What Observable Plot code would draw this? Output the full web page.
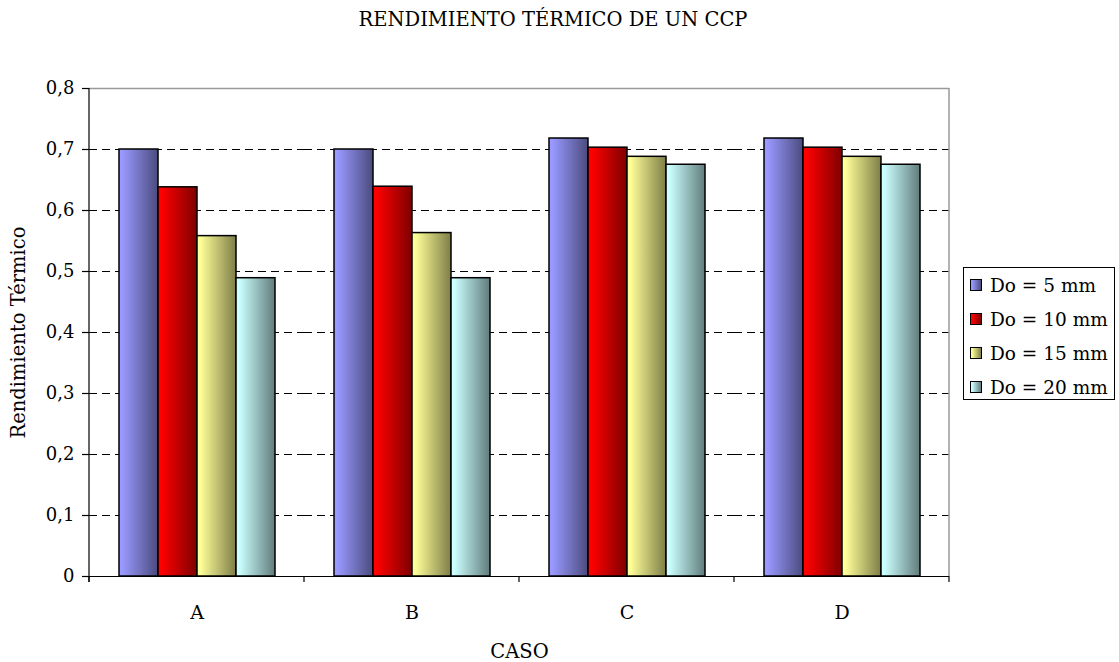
<!DOCTYPE html>
<html><head><meta charset="utf-8">
<script src="https://cdn.jsdelivr.net/npm/d3@7"></script>
<script src="https://cdn.jsdelivr.net/npm/@observablehq/plot@0.6"></script>
<style>
body{margin:0;background:#fff;font-family:"DejaVu Serif",serif;}
#wrap{position:relative;width:1119px;height:662px;overflow:hidden;}
#wrap svg{position:absolute;left:0;top:0;}
#title{position:absolute;left:0;width:1106px;top:8px;text-align:center;font-size:19.5px;color:#000;}
#legend{position:absolute;left:963px;top:267px;width:152px;height:133px;border:1px solid #000;box-sizing:border-box;background:#fff;}
.item{position:absolute;left:6px;height:24px;display:flex;align-items:center;font-size:18.5px;color:#000;white-space:nowrap;}
.sw{width:12px;height:12px;border:1px solid #000;margin-right:8px;box-sizing:border-box;}
</style>
</head><body>
<div id="wrap">
<div id="title">RENDIMIENTO TÉRMICO DE UN CCP</div>
<div id="legend"></div>
</div>
<script>
const casos = ["A", "B", "C", "D"];
const series = ["Do = 5 mm", "Do = 10 mm", "Do = 15 mm", "Do = 20 mm"];
const valores5  = [0.70, 0.70, 0.718, 0.718];
const valores10 = [0.638, 0.639, 0.703, 0.703];
const valores15 = [0.558, 0.563, 0.688, 0.688];
const valores20 = [0.489, 0.489, 0.675, 0.675];
const coloresClaro  = ["#9999ff", "#ff0000", "#ffff99", "#ccffff"];
const coloresOscuro = ["#4b4b7e", "#7e0000", "#7e7e48", "#617c7c"];
const yTicks = [0, 0.1, 0.2, 0.3, 0.4, 0.5, 0.6, 0.7, 0.8];
const yTickLabels = ["0", "0,1", "0,2", "0,3", "0,4", "0,5", "0,6", "0,7", "0,8"];

const todas = [valores5, valores10, valores15, valores20];
const rows = [];
casos.forEach((c, i) => series.forEach((s, j) => rows.push({caso: c, serie: s, valor: todas[j][i], k: j})));

const font = "DejaVu Serif";
const chart = Plot.plot({
  width: 1119, height: 662,
  marginLeft: 87, marginRight: 169, marginTop: 88, marginBottom: 86,
  style: {fontFamily: font, fontSize: "18px", color: "#000", background: "transparent"},
  fx: {domain: casos, padding: 0},
  x: {domain: series, paddingInner: 0, paddingOuter: 0.75, axis: null},
  y: {domain: [0, 0.8]},
  marks: [
    Plot.gridY(yTicks.filter(d => d > 0 && d < 0.8), {stroke: "#000", strokeOpacity: 1, strokeDasharray: "8,5", strokeWidth: 1}),
    Plot.ruleY([0.8], {stroke: "#999", strokeWidth: 1.5}),
    ...series.map((s, j) => Plot.barY(rows.filter(r => r.k === j), {
      fx: "caso", x: "serie", y: "valor",
      fill: `url(#grad${j})`, stroke: "#000", strokeWidth: 1.5
    })),
    Plot.ruleY([0], {stroke: "#000", strokeWidth: 1.2}),
    Plot.axisY(yTicks, {
      tickSize: 7, tickPadding: 8, stroke: "#000", strokeWidth: 1.2,
      tickFormat: d => yTickLabels[yTicks.indexOf(d)],
      fontSize: 18, label: null
    }),
    Plot.axisY({
      tickSize: 0, ticks: [], fontSize: 19.5,
      label: "Rendimiento Térmico", labelAnchor: "center", labelArrow: "none", labelOffset: 78
    }),
    Plot.axisFx({
      anchor: "bottom", tickSize: 0, tickPadding: 29, fontSize: 19,
      label: null
    }),
    Plot.axisFx({
      anchor: "bottom", tickSize: 0, ticks: [], fontSize: 19.5,
      label: "CASO", labelAnchor: "center", labelArrow: "none", labelOffset: 81
    })
  ]
});

const svg = d3.select(chart);
const defs = svg.insert("defs", ":first-child");
series.forEach((s, j) => {
  const g = defs.append("linearGradient").attr("id", "grad" + j)
    .attr("x1", "0").attr("x2", "1").attr("y1", "0").attr("y2", "0");
  g.append("stop").attr("offset", "0.08").attr("stop-color", coloresClaro[j]);
  g.append("stop").attr("offset", "1").attr("stop-color", coloresOscuro[j]);
});

// category boundary ticks, left axis line and right frame line from library scales
const fx = chart.scale("fx");
const y = chart.scale("y");
const bw = fx.bandwidth;
const x0 = fx.apply(casos[0]);
const xEnd = fx.apply(casos[casos.length - 1]) + bw;
const y0 = y.apply(0), yTop = y.apply(0.8);
const extra = svg.append("g");
extra.append("line").attr("x1", xEnd).attr("x2", xEnd).attr("y1", yTop).attr("y2", y0).attr("stroke", "#999").attr("stroke-width", 1.5);
extra.append("line").attr("x1", x0).attr("x2", x0).attr("y1", yTop).attr("y2", y0 + 6).attr("stroke", "#000").attr("stroke-width", 1.2);
casos.forEach(c => {
  const xb = fx.apply(c);
  extra.append("line").attr("x1", xb).attr("x2", xb).attr("y1", y0).attr("y2", y0 + 6).attr("stroke", "#000").attr("stroke-width", 1.2);
});
extra.append("line").attr("x1", xEnd).attr("x2", xEnd).attr("y1", y0).attr("y2", y0 + 6).attr("stroke", "#000").attr("stroke-width", 1.2);

document.getElementById("wrap").appendChild(chart);

const legend = d3.select("#legend");
series.forEach((s, j) => {
  const it = legend.append("div").attr("class", "item").style("top", (5 + j * 34) + "px");
  it.append("div").attr("class", "sw").style("background", `linear-gradient(to right, ${coloresClaro[j]} 10%, ${coloresOscuro[j]})`);
  it.append("span").text(s);
});
</script>
</body></html>
